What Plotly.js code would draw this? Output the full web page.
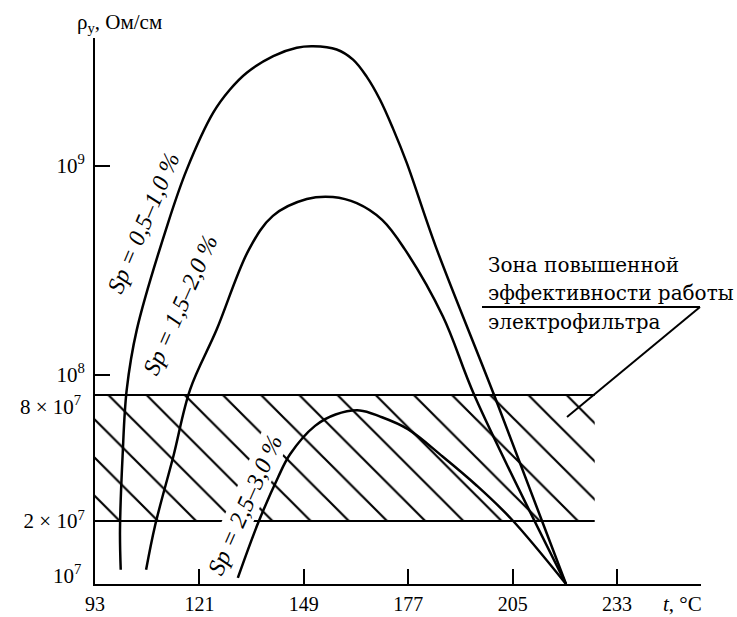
<!DOCTYPE html>
<html>
<head>
<meta charset="utf-8">
<script src="https://cdn.plot.ly/plotly-3.0.1.min.js"></script>
<style>html,body{margin:0;padding:0;background:#fff;}#chart{width:737px;height:617px;}</style>
</head>
<body>
<div id="chart"></div>
<script>
// Temperature t, °C and resistivity ρ, Ом/см
const curve1T = [99.9, 99.7, 100.4, 101.5, 104.2, 112.6, 117.6, 124.7, 129.2, 133.7, 140.8, 147.1, 151.5, 157.8, 162.2, 165.8, 169.4, 173.0, 176.6, 184.4, 200.2, 219.3];
const curve1R = [1.17e7, 1.81e7, 4.1e7, 8.47e7, 1.64e8, 5.33e8, 9.57e8, 1.79e9, 2.31e9, 2.78e9, 3.34e9, 3.66e9, 3.72e9, 3.59e9, 3.21e9, 2.67e9, 2.07e9, 1.49e9, 1.03e9, 4.09e8, 7.85e7, 1.0e7];
const curve2T = [106.7, 109.1, 114.0, 118.5, 125.6, 134.3, 140.7, 149.8, 156.8, 163.2, 170.0, 176.0, 186.3, 194.9, 219.3];
const curve2R = [1.17e7, 1.9e7, 4.07e7, 8.5e7, 1.64e8, 3.98e8, 5.75e8, 6.92e8, 7.08e8, 6.61e8, 5.5e8, 4.0e8, 1.9e8, 7.85e7, 1.0e7];
const curve3T = [131.3, 136.7, 142.1, 145.3, 152.0, 157.5, 164.0, 169.5, 176.9, 186.2, 195.4, 204.7, 219.3];
const curve3R = [1.07e7, 1.95e7, 3.24e7, 4.17e7, 5.7e7, 6.46e7, 6.76e7, 6.31e7, 5.5e7, 4.07e7, 2.95e7, 2.04e7, 1.0e7];
const curveLabels = ['<i>Sp = 0,5–1,0 %</i>', '<i>Sp = 1,5–2,0 %</i>', '<i>Sp = 2,5–3,0 %</i>'];

// zone of increased efficiency
const zoneX = [93, 227];
const zoneLow = 2e7;
const zoneHigh = 8e7;
const zoneText = ['Зона повышенной', 'эффективности работы', 'электрофильтра'];

const xTicks = [93, 121, 149, 177, 205, 233];
const yTicks = [2e7, 1e8, 1e9];
const yTickText = ['2 × 10<sup>7</sup>', '10<sup>8</sup>', '10<sup>9</sup>'];
const yExtraLabels = ['8 × 10<sup>7</sup>', '10<sup>7</sup>'];

const FONT = 'Liberation Serif, Times New Roman, serif';
const WIDE = 'DejaVu Serif, serif';
const curveLine = {color: '#000', width: 2.5, shape: 'spline', smoothing: 1.0};

const traces = [
  { // hatched fill
    x: [zoneX[0], zoneX[1], zoneX[1], zoneX[0]],
    y: [zoneLow, zoneLow, zoneHigh, zoneHigh],
    mode: 'lines', fill: 'toself', line: {width: 0, color: 'rgba(0,0,0,0)'},
    fillcolor: 'rgba(255,255,255,0)',
    fillpattern: {shape: '\\', size: 27, solidity: 0.08, fgcolor: '#000', bgcolor: 'rgba(255,255,255,0)'},
    hoverinfo: 'skip'
  },
  { // zone edges
    x: [zoneX[0], zoneX[1], null, zoneX[0], zoneX[1]],
    y: [zoneHigh, zoneHigh, null, zoneLow, zoneLow],
    mode: 'lines', line: {color: '#000', width: 2}, connectgaps: false
  },
  {x: curve1T, y: curve1R, mode: 'lines', line: curveLine},
  {x: curve2T, y: curve2R, mode: 'lines', line: curveLine},
  {x: curve3T, y: curve3R, mode: 'lines', line: curveLine}
];

function px2paperX(p) { return (p - 95) / 606; }
function px2paperY(p) { return (584 - p) / 546; }

const annotations = [
  {xref: 'paper', yref: 'paper', x: px2paperX(164), y: px2paperY(23), xanchor: 'right', yanchor: 'middle', showarrow: false,
   text: 'ρ<sub>у</sub>, Ом/см', font: {family: FONT, size: 21, color: '#000'}},
  {xref: 'paper', yref: 'paper', x: px2paperX(704), y: px2paperY(604), xanchor: 'right', yanchor: 'middle', showarrow: false,
   text: '<i>t</i>, °C', font: {family: FONT, size: 21, color: '#000'}},
  {xref: 'paper', yref: 'paper', x: px2paperX(83), y: px2paperY(405), xanchor: 'right', yanchor: 'middle', showarrow: false,
   text: yExtraLabels[0], font: {family: FONT, size: 21, color: '#000'}},
  {xref: 'paper', yref: 'paper', x: px2paperX(83), y: px2paperY(574), xanchor: 'right', yanchor: 'middle', showarrow: false,
   text: yExtraLabels[1], font: {family: FONT, size: 21, color: '#000'}},
  {xref: 'x', yref: 'y', x: 105.9, y: 8.727, textangle: -67, showarrow: false,
   text: curveLabels[0], font: {family: FONT, size: 24, color: '#000'}},
  {xref: 'x', yref: 'y', x: 115.8, y: 8.335, textangle: -66, showarrow: false,
   text: curveLabels[1], font: {family: FONT, size: 24, color: '#000'}},
  {xref: 'x', yref: 'y', x: 133.2, y: 7.378, textangle: -66, showarrow: false, bgcolor: '#fff', borderpad: 1,
   text: curveLabels[2], font: {family: FONT, size: 24, color: '#000'}}
];
const zoneLineY = [265, 293, 322];
zoneText.forEach(function(t, i) {
  annotations.push({xref: 'paper', yref: 'paper', x: px2paperX(486), y: px2paperY(zoneLineY[i]), xanchor: 'left', yanchor: 'middle',
    showarrow: false, text: t, font: {family: WIDE, size: 20, color: '#000'}});
});

const layout = {
  width: 737, height: 617,
  margin: {l: 95, r: 36, t: 38, b: 33},
  paper_bgcolor: '#fff', plot_bgcolor: '#fff',
  showlegend: false,
  font: {family: FONT, color: '#000', size: 21},
  xaxis: {
    range: [93, 255.5], tickvals: xTicks, ticktext: xTicks.map(String),
    ticks: 'inside', ticklen: 15, tickwidth: 2, tickcolor: '#000',
    showline: true, linewidth: 2, linecolor: '#000',
    showgrid: false, zeroline: false, ticklabelstandoff: 1,
    tickfont: {family: FONT, size: 20, color: '#000'}
  },
  yaxis: {
    type: 'log', range: [7, 9.61], tickvals: yTicks, ticktext: yTickText,
    ticks: 'inside', ticklen: 15, tickwidth: 2, tickcolor: '#000',
    showline: true, linewidth: 2, linecolor: '#000',
    showgrid: false, zeroline: false, ticklabelstandoff: 4,
    tickfont: {family: FONT, size: 21, color: '#000'}
  },
  shapes: [
    {type: 'line', xref: 'paper', yref: 'paper', x0: px2paperX(482), y0: px2paperY(307), x1: px2paperX(700), y1: px2paperY(307), line: {color: '#000', width: 2}},
    {type: 'line', xref: 'paper', yref: 'paper', x0: px2paperX(700), y0: px2paperY(307), x1: px2paperX(567), y1: px2paperY(417), line: {color: '#000', width: 2}}
  ],
  annotations: annotations
};

Plotly.newPlot('chart', traces, layout, {staticPlot: true, displayModeBar: false});
</script>
</body>
</html>
